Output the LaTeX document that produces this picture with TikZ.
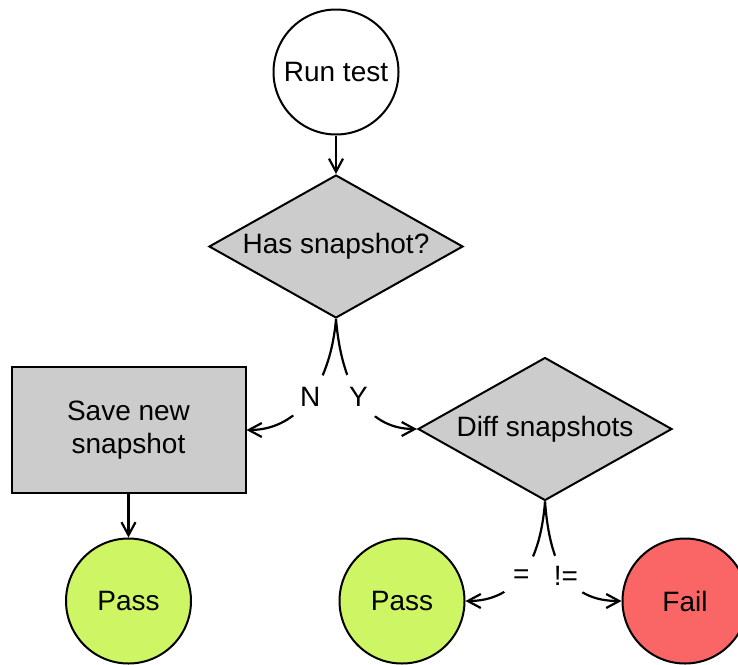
\documentclass[tikz,border=0pt]{standalone}
\usepackage{fontspec}
\setmainfont{Liberation Sans}
\usetikzlibrary{shapes.geometric,arrows.meta}

\definecolor{boxgray}{RGB}{204,204,204}
\definecolor{passgreen}{RGB}{206,245,100}
\definecolor{failred}{RGB}{250,102,102}

\tikzset{
  base/.style={draw=black, line width=2pt, inner sep=0pt,
    font=\fontsize{28}{33}\selectfont},
  roundnode/.style={base, circle, minimum size=125pt},
  decision/.style={base, diamond, aspect=1.776, fill=boxgray, minimum width=254pt, minimum height=143pt},
  process/.style={base, rectangle, fill=boxgray, minimum width=234pt, minimum height=126pt, align=center},
  flow/.style={line width=2.2pt, -{Straight Barb[length=13pt,width=14pt,line width=2.2pt]}},
  gaplabel/.style={circle, fill=white, inner sep=0pt, minimum size=50pt,
    font=\fontsize{28}{33}\selectfont},
}

\begin{document}
\begin{tikzpicture}[x=1pt, y=-1pt]
  \useasboundingbox (0,0) rectangle (738,664);

  % nodes
  \node[roundnode] (run) at (336,72) {Run test};
  \node[decision] (has) at (336,246.5) {Has snapshot?};
  \node[process] (save) at (128.5,430) {Save new\\snapshot};
  \node[decision] (diff) at (545,429) {Diff snapshots};
  \node[roundnode, fill=passgreen] (passA) at (128.5,601) {Pass};
  \node[roundnode, fill=passgreen] (passB) at (402,601) {Pass};
  \node[roundnode, fill=failred] (fail) at (685,601) {Fail};

  % straight connectors
  \draw[flow] (run.south) -- (has.north);
  \draw[flow] (save.south) -- (passA.north);

  % branching connectors with labels set in a gap
  \draw[flow] (has.south) .. controls (331,379) and (302,430) .. (save.east)
    node[gaplabel, pos=0.5] (lblN) {N};
  \draw[flow] (has.south) .. controls (341,381) and (364,429) .. (diff.west)
    node[gaplabel, pos=0.5] (lblY) {Y};
  \draw[flow] (diff.south) .. controls (540,568) and (513,601) .. (passB.east)
    node[gaplabel, pos=0.5, minimum size=46pt] (lblEq) {=};
  \draw[flow] (diff.south) .. controls (550,568) and (570,601) .. (fail.west)
    node[gaplabel, pos=0.5, minimum size=46pt] (lblNe) {!=};
\end{tikzpicture}
\end{document}
